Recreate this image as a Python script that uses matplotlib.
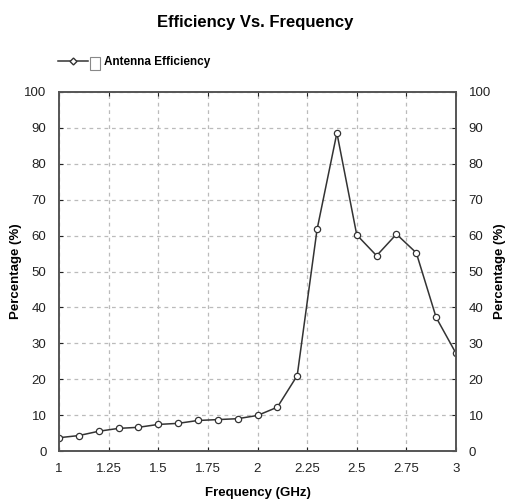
import matplotlib
matplotlib.use("Agg")
import matplotlib.pyplot as plt
from matplotlib.lines import Line2D
from matplotlib.patches import Rectangle

freq_ghz = [1.0, 1.1, 1.2, 1.3, 1.4, 1.5, 1.6, 1.7, 1.8, 1.9, 2.0,
            2.1, 2.2, 2.3, 2.4, 2.5, 2.6, 2.7, 2.8, 2.9, 3.0]
efficiency = [3.7, 4.3, 5.5, 6.3, 6.6, 7.4, 7.7, 8.5, 8.75, 9.0, 9.9,
              12.2, 21.0, 61.7, 88.6, 60.2, 54.4, 60.4, 55.2, 37.2, 27.2]
x_ticks = [1, 1.25, 1.5, 1.75, 2, 2.25, 2.5, 2.75, 3]
x_tick_labels = ["1", "1.25", "1.5", "1.75", "2", "2.25", "2.5", "2.75", "3"]
y_ticks = list(range(0, 101, 10))

plt.rcParams['font.family'] = ['Liberation Sans', 'DejaVu Sans']

fig = plt.figure(figsize=(5.07, 5.0), dpi=100)
W, H = 507, 500
ax = fig.add_axes([59 / W, 1 - 451 / H, (456 - 59) / W, (451 - 92) / H])

line_color = "#333333"
ax.plot(freq_ghz, efficiency, color=line_color, lw=1.1, marker='o',
        markersize=4.5, markerfacecolor='white', markeredgecolor=line_color,
        markeredgewidth=0.9)

ax.set_xlim(1, 3)
ax.set_ylim(0, 100)
ax.set_xticks(x_ticks)
ax.set_xticklabels(x_tick_labels)
ax.set_yticks(y_ticks)
ax.grid(True, color="#bbbbbb", linestyle=(0, (3, 3)), lw=0.9)
ax.tick_params(axis='both', direction='in', length=3, labelsize=9.5,
               colors="#222222", pad=9)
ax.tick_params(axis='y', left=True, right=True, labelleft=True,
               labelright=True)
ax.tick_params(axis='x', top=True)
for s in ax.spines.values():
    s.set_color("#555555")
    s.set_linewidth(1.4)

ax.set_xlabel("Frequency (GHz)", fontsize=9.5, fontweight='bold', labelpad=8)
fig.text(16 / W, 1 - 271 / H, "Percentage (%)", rotation=90, ha='center',
         va='center', fontsize=9.5, fontweight='bold')
fig.text(500 / W, 1 - 271 / H, "Percentage (%)", rotation=90, ha='center',
         va='center', fontsize=9.5, fontweight='bold')

fig.text(255 / W, 1 - 22 / H, "Efficiency Vs. Frequency", ha='center',
         va='center', fontsize=12, fontweight='bold')

# legend entry: line with marker, checkbox, label
fig.add_artist(Line2D([58 / W, 88 / W], [1 - 61 / H, 1 - 61 / H],
                      color=line_color, lw=1.1, transform=fig.transFigure))
fig.add_artist(Line2D([73 / W], [1 - 61 / H], marker='D', markersize=3.5,
                      markerfacecolor='white', markeredgecolor=line_color,
                      transform=fig.transFigure))
fig.add_artist(Rectangle((90 / W, 1 - 70 / H), 10 / W, 13 / H,
                         facecolor='white', edgecolor='#888888', lw=0.8,
                         transform=fig.transFigure))
fig.text(104 / W, 1 - 62 / H, "Antenna Efficiency", ha='left', va='center',
         fontsize=8.5, fontweight='bold')

fig.savefig("out.png", dpi=100)
